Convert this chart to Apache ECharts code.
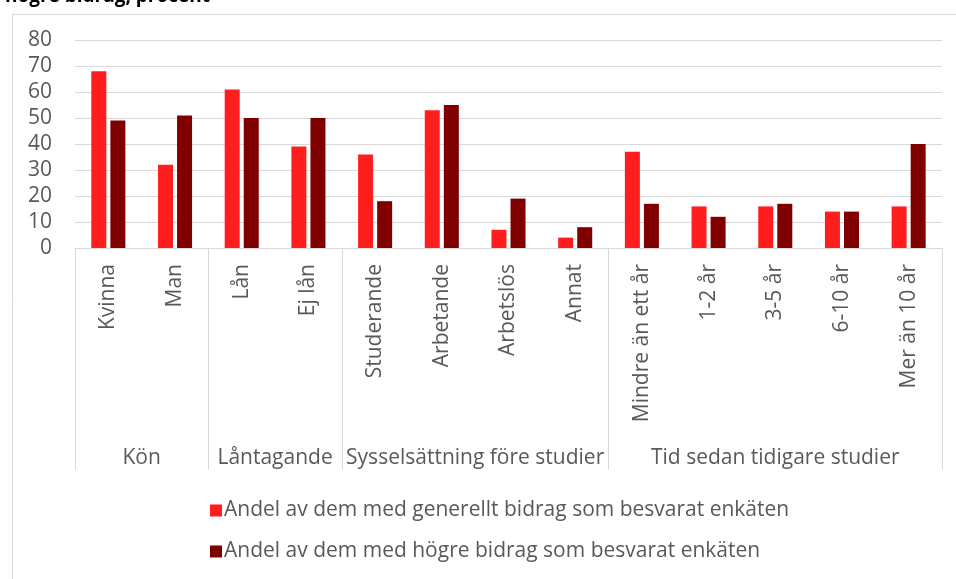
<!DOCTYPE html>
<html>
<head>
<meta charset="utf-8">
<script src="https://cdn.jsdelivr.net/npm/echarts@6/dist/echarts.min.js"></script>
<style>
  html, body { margin: 0; padding: 0; background: #fff; }
  #chart { width: 956px; height: 579px; }
</style>
</head>
<body>
<div id="chart"></div>
<script>
// kategorier och grupper
const categories = ['Kvinna', 'Man', 'Lån', 'Ej lån', 'Studerande', 'Arbetande', 'Arbetslös', 'Annat',
  'Mindre än ett år', '1-2 år', '3-5 år', '6-10 år', 'Mer än 10 år'];
const groups = ['Kön', 'Låntagande', 'Sysselsättning före studier', 'Tid sedan tidigare studier'];
const groupSizes = [2, 2, 4, 5];

// andelar i procent
const generellt = [68, 32, 61, 39, 36, 53, 7, 4, 37, 16, 16, 14, 16];
const hogre = [49, 51, 50, 50, 18, 55, 19, 8, 17, 12, 17, 14, 40];

const yTicks = [0, 10, 20, 30, 40, 50, 60, 70, 80];

// gränser och mittpunkter för grupperna
const bounds = [0];
groupSizes.forEach(n => bounds.push(bounds[bounds.length - 1] + n));
const centers = groupSizes.map((n, i) => bounds[i] + n / 2);

const font = '"Open Sans", sans-serif';
const fs = 21;
const textColor = '#595959';
const lineColor = '#d9d9d9';

const chart = echarts.init(document.getElementById('chart'));
chart.setOption({
  animation: false,
  title: {
    text: 'högre bidrag, procent',
    left: 0,
    top: -18,
    textStyle: { fontFamily: font, fontSize: 19, fontWeight: 'bold', color: '#000' }
  },
  graphic: [{
    type: 'rect',
    left: 10,
    top: 12,
    shape: { width: 944, height: 600 },
    style: { fill: 'none', stroke: lineColor, lineWidth: 1 }
  }],
  legend: {
    orient: 'vertical',
    left: 205,
    top: 495,
    itemGap: 20,
    itemWidth: 12,
    itemHeight: 12,
    icon: 'rect',
    textStyle: { fontFamily: font, fontSize: fs, color: textColor, padding: [0, 0, 0, -3] }
  },
  grid: { left: 75, right: 14, top: 40, bottom: 331 },
  xAxis: [{
    type: 'category',
    data: categories,
    axisLine: { lineStyle: { color: lineColor } },
    axisTick: { show: false },
    axisLabel: {
      rotate: 90,
      interval: 0,
      margin: 16,
      fontFamily: font,
      fontSize: fs,
      color: textColor
    }
  }, {
    type: 'value',
    position: 'bottom',
    min: 0,
    max: categories.length,
    axisLine: { show: false },
    splitLine: { show: false },
    axisTick: {
      show: true,
      customValues: bounds,
      length: 222,
      lineStyle: { color: lineColor }
    },
    axisLabel: {
      customValues: centers,
      margin: 200,
      fontFamily: font,
      fontSize: fs,
      color: textColor,
      formatter: v => groups[centers.indexOf(v)] || ''
    }
  }],
  yAxis: {
    type: 'value',
    min: 0,
    max: 80,
    interval: 10,
    axisLine: { show: false },
    axisTick: { show: false },
    splitLine: { lineStyle: { color: lineColor } },
    axisLabel: {
      margin: 23,
      fontFamily: font,
      fontSize: fs,
      color: textColor,
      formatter: v => yTicks.includes(v) ? String(v) : ''
    }
  },
  series: [{
    name: 'Andel av dem med generellt bidrag som besvarat enkäten',
    type: 'bar',
    data: generellt,
    barWidth: 15,
    barGap: '27%',
    itemStyle: { color: '#ff1d1d' }
  }, {
    name: 'Andel av dem med högre bidrag som besvarat enkäten',
    type: 'bar',
    data: hogre,
    barWidth: 15,
    barGap: '27%',
    itemStyle: { color: '#800000' }
  }]
});
</script>
</body>
</html>
